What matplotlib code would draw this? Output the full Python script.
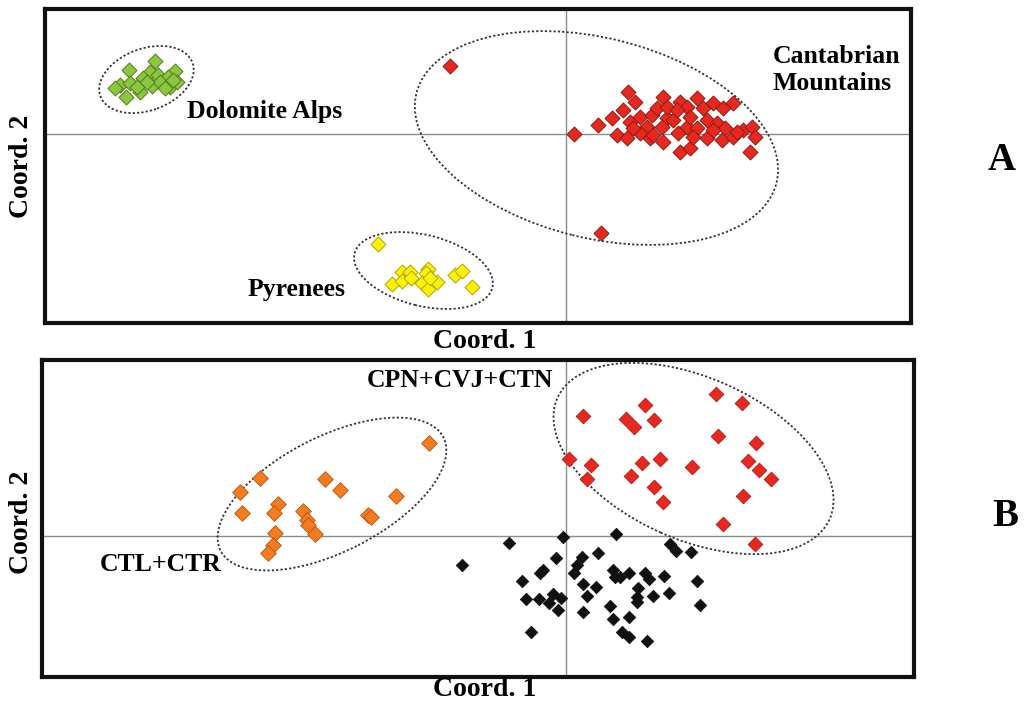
import matplotlib
matplotlib.use("Agg")
import matplotlib.pyplot as plt
from matplotlib.patches import Ellipse

plt.rcParams['font.family'] = ['Liberation Serif', 'DejaVu Serif']
plt.rcParams['font.weight'] = 'bold'

# ---- panel A: PCoA of the three mountain ranges ----
dolo_x = [-4.11, -4.37, -4.16, -3.91, -4.23, -4.08, -3.98, -4.46, -4.36, -4.14,
          -4.06, -3.96, -4.51, -4.26, -4.40, -3.89, -4.19, -4.29, -4.01, -3.93]
dolo_y = [0.73, 0.64, 0.62, 0.63, 0.56, 0.59, 0.57, 0.49, 0.51, 0.48,
          0.52, 0.47, 0.46, 0.42, 0.37, 0.52, 0.52, 0.47, 0.46, 0.54]

cant_x = [-1.16, 0.08, 0.35, 0.62, 0.69, 0.57, 0.46, 0.32, 0.64, 0.51, 0.61, 0.74,
          0.81, 0.86, 0.97, 0.91, 1.01, 0.96, 0.74, 0.84, 0.97, 1.07, 1.14, 1.21,
          1.31, 1.12, 1.14, 1.24, 1.21, 1.31, 1.41, 1.37, 1.47, 1.57, 1.67, 1.51,
          1.41, 1.59, 1.56, 1.67, 1.77, 1.86, 1.89, 1.84, 1.24, 1.01, 1.11, 1.27,
          0.87, 0.67, 1.47, 1.71]
cant_y = [0.68, 0.00, -0.99, 0.42, 0.32, 0.24, 0.16, 0.09, 0.12, -0.01, -0.04, 0.17,
          0.07, 0.19, 0.37, 0.26, 0.16, 0.07, 0.01, -0.04, -0.08, 0.14, 0.32, 0.27,
          0.36, 0.01, -0.18, -0.14, 0.07, 0.06, 0.14, 0.26, 0.31, 0.26, 0.31, 0.11,
          -0.04, 0.06, -0.06, -0.03, 0.04, 0.07, -0.03, -0.18, 0.17, 0.27, 0.24, -0.03,
          -0.01, 0.06, 0.04, 0.02]

pyr_x = [-1.88, -1.64, -1.56, -1.74, -1.64, -1.55, -1.38, -1.40, -1.44, -1.38,
         -1.29, -1.11, -1.04, -0.94, -1.36]
pyr_y = [-1.10, -1.38, -1.38, -1.50, -1.47, -1.44, -1.35, -1.39, -1.49, -1.55,
         -1.48, -1.41, -1.37, -1.53, -1.44]

# ---- panel B: Cantabrian populations ----
ctl_x = [-1.37, -3.06, -3.26, -2.41, -2.26, -1.70, -3.24, -2.88, -2.92, -2.63,
         -2.59, -2.58, -2.51, -1.98, -1.95, -2.91, -2.93, -2.98]
ctl_y = [0.93, 0.58, 0.44, 0.57, 0.46, 0.40, 0.23, 0.32, 0.23, 0.25,
         0.16, 0.11, 0.02, 0.21, 0.19, 0.03, -0.09, -0.17]

cpn_x = [1.50, 1.76, 0.17, 0.79, 0.60, 0.68, 0.88, 1.52, 1.90, 0.03, 0.25, 0.21,
         0.76, 0.94, 0.65, 1.26, 0.88, 0.97, 1.82, 1.93, 2.05, 1.77, 1.57, 1.89]
cpn_y = [1.42, 1.33, 1.20, 1.31, 1.17, 1.09, 1.16, 1.00, 0.93, 0.77, 0.71, 0.57,
         0.73, 0.77, 0.60, 0.69, 0.49, 0.34, 0.75, 0.66, 0.57, 0.40, 0.12, -0.08]

rest_x = [-0.03, 0.50, -0.57, -1.04, 1.04, 1.10, 1.25, -0.10, 0.16, 0.32, 0.11, -0.23,
          -0.26, 0.08, 0.47, 0.49, 0.54, 0.63, 0.79, 0.83, 0.98, 1.31, -0.44, 0.17,
          0.30, 0.72, 0.21, 0.87, 1.03, -0.40, -0.27, -0.13, -0.05, -0.17, -0.08, 0.71,
          0.71, 1.34, 0.17, 0.44, 0.47, 0.63, -0.35, 0.56, 0.63, 0.81]
rest_y = [-0.01, 0.02, -0.07, -0.29, -0.08, -0.15, -0.16, -0.22, -0.21, -0.17, -0.29, -0.34,
          -0.37, -0.37, -0.34, -0.41, -0.41, -0.37, -0.37, -0.43, -0.40, -0.45, -0.45, -0.48,
          -0.51, -0.52, -0.60, -0.60, -0.57, -0.63, -0.63, -0.58, -0.62, -0.67, -0.74, -0.61,
          -0.66, -0.69, -0.76, -0.70, -0.83, -0.81, -0.96, -0.96, -1.01, -1.05]

fig = plt.figure(figsize=(10.24, 7.09), dpi=100)
axA = fig.add_axes([0.0439, 0.5444, 0.8457, 0.4429])
axB = fig.add_axes([0.0410, 0.0451, 0.8516, 0.4471])


def setup(ax, xlim, ylim):
    ax.set_xlim(*xlim)
    ax.set_ylim(*ylim)
    ax.set_xticks([])
    ax.set_yticks([])
    for s in ax.spines.values():
        s.set_linewidth(3)
        s.set_color('#111111')
    ax.axhline(0, color='#8c8c8c', lw=1, zorder=1)
    ax.axvline(0, color='#8c8c8c', lw=1, zorder=1)


def ring(ax, cx, cy, w, h, ang):
    ax.add_patch(Ellipse((cx, cy), w, h, angle=ang, fill=False, ec='#333333',
                         lw=1.3, ls=(0, (1.2, 1.2)), zorder=2))


setup(axA, (-5.21, 3.45), (-1.89, 1.25))
axA.scatter(dolo_x, dolo_y, marker='D', s=58, c='#8cc63e', edgecolors='#4f7d1c', lw=0.7, zorder=3)
axA.scatter(cant_x, cant_y, marker='D', s=58, c='#e8281e', edgecolors='#8a1c14', lw=0.7, zorder=3)
axA.scatter(pyr_x, pyr_y, marker='D', s=58, c='#fff200', edgecolors='#b3a300', lw=0.7, zorder=3)
ring(axA, -4.195, 0.545, 0.98, 0.62, 20)
ring(axA, 0.305, -0.04, 3.71, 2.00, -14)
ring(axA, -1.425, -1.365, 1.42, 0.71, -14)
axA.text(-3.79, 0.16, "Dolomite Alps", fontsize=18.5, ha='left', va='baseline')
axA.text(2.07, 0.71, "Cantabrian", fontsize=18.5, ha='left', va='baseline')
axA.text(2.07, 0.44, "Mountains", fontsize=18.5, ha='left', va='baseline')
axA.text(-3.18, -1.62, "Pyrenees", fontsize=18.5, ha='left', va='baseline')

setup(axB, (-5.24, 3.48), (-1.41, 1.76))
axB.scatter(ctl_x, ctl_y, marker='D', s=64, c='#f47c20', edgecolors='#b85410', lw=0.6, zorder=3)
axB.scatter(cpn_x, cpn_y, marker='D', s=56, c='#e8281e', edgecolors='#b01a12', lw=0.6, zorder=3)
axB.scatter(rest_x, rest_y, marker='D', s=40, c='#111111', edgecolors='#111111', lw=0.6, zorder=3)
ring(axB, -2.34, 0.42, 2.50, 1.15, 27)
ring(axB, 1.275, 0.775, 2.98, 1.62, -24)
axB.text(-1.99, 1.49, "CPN+CVJ+CTN", fontsize=18.5, ha='left', va='baseline')
axB.text(-4.66, -0.35, "CTL+CTR", fontsize=18.5, ha='left', va='baseline')

fig.text(485 / 1024, 1 - 342 / 709, "Coord. 1", fontsize=20, ha='center', va='center')
fig.text(485 / 1024, 1 - 690 / 709, "Coord. 1", fontsize=20, ha='center', va='center')
fig.text(22 / 1024, 1 - 166 / 709, "Coord. 2", fontsize=20, ha='center', va='center', rotation=90)
fig.text(22 / 1024, 1 - 522 / 709, "Coord. 2", fontsize=20, ha='center', va='center', rotation=90)
fig.text(1002 / 1024, 1 - 160 / 709, "A", fontsize=28, ha='center', va='center')
fig.text(1005 / 1024, 1 - 517 / 709, "B", fontsize=28, ha='center', va='center')

fig.savefig("out.png", dpi=100)
